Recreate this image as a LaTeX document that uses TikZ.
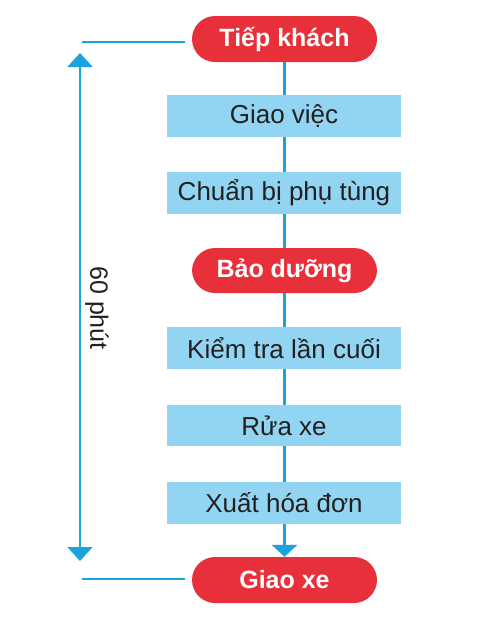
\documentclass[tikz,border=0pt]{standalone}
\usepackage{fontspec}
\setmainfont{Liberation Sans}
\usetikzlibrary{arrows.meta,backgrounds}
\definecolor{redbox}{HTML}{E8303A}
\definecolor{bluebox}{HTML}{92D5F2}
\definecolor{lineblue}{HTML}{1BA3DF}
\definecolor{txt}{HTML}{231F20}
\tikzset{
  redstep/.style={draw=none,fill=redbox,rounded corners=23pt,minimum width=185pt,minimum height=46pt,inner sep=0pt,text=white,font=\fontsize{25}{25}\selectfont\bfseries},
  bluestep/.style={draw=none,fill=bluebox,minimum width=234pt,minimum height=42pt,inner sep=0pt,text=txt,font=\fontsize{26}{26}\selectfont},
  flowline/.style={draw=lineblue,line width=3.5pt},
  dimline/.style={draw=lineblue,line width=2pt},
  refline/.style={draw=lineblue,line width=1.3pt}
}
\begin{document}
\begin{tikzpicture}[x=1pt,y=-1pt]
\useasboundingbox (0,0) rectangle (500,619);
\node[redstep] (t1) at (284.5,39) {Tiếp khách};
\node[bluestep] (b1) at (284,116) {Giao việc};
\node[bluestep] (b2) at (284,193) {Chuẩn bị phụ tùng};
\node[redstep,minimum height=45pt] (t2) at (284.5,270.5) {Bảo dưỡng};
\node[bluestep] (b3) at (284,348) {Kiểm tra lần cuối};
\node[bluestep,minimum height=41pt] (b4) at (284,425.5) {Rửa xe};
\node[bluestep] (b5) at (284,503) {Xuất hóa đơn};
\node[redstep] (t3) at (284.5,580) {Giao xe};
\begin{scope}[on background layer]
\fill[white] (0,0) rectangle (500,619);
\draw[flowline,-{Triangle[width=25pt,length=12pt]}] (t1.south) -- (t3.north);
\end{scope}
\coordinate (h1) at (82,42);
\coordinate (h2) at (82,579);
\draw[refline,shorten >=7pt] (h1) -- (h1 -| t1.west);
\draw[refline,shorten >=7pt] (h2) -- (h2 -| t3.west);
\coordinate (a1) at (80,53);
\coordinate (a2) at (80,561);
\draw[dimline,{Triangle[width=25pt,length=14pt]}-{Triangle[width=25pt,length=14pt]}] (a1) -- (a2);
\node[rotate=-90,text=txt,font=\fontsize{25}{25}\selectfont,inner sep=0pt] (lbl) at (97,308) {60 phút};
\end{tikzpicture}
\end{document}
